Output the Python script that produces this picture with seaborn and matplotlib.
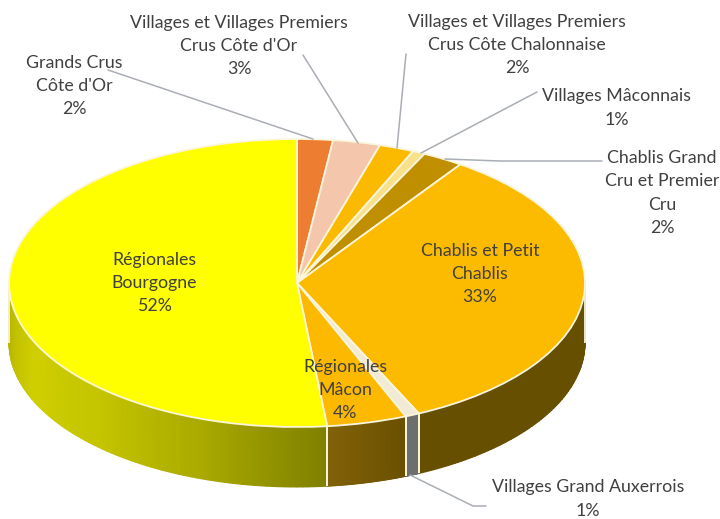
# 3D looking pie of Burgundy wine appellations
import numpy as np
import matplotlib
matplotlib.use('Agg')
import matplotlib.pyplot as plt
import seaborn as sns

# Clockwise from 12 o'clock, shares
values = [2.0, 2.65, 1.95, 0.7, 2.3, 33.45, 0.8, 4.48, 51.67]
top_colors = ['#ED7D31', '#F4C6AB', '#FBB900', '#F9E08A', '#BF8F00',
              '#FDBB00', '#F1EAD4', '#FDB900', '#FFFF00']
side_colors = [None, None, None, None, None,
               ['#665000', '#665000'],
               ['#6E6E6E', '#6E6E6E'],
               ['#6A5000', '#826208'],
               ['#808000', '#A8A800', '#C4C400', '#CFCF00', '#B4B400']]

label_texts = ["Grands Crus\nCôte d'Or\n2%",
               "Villages et Villages Premiers\nCrus Côte d'Or\n3%",
               "Villages et Villages Premiers\nCrus Côte Chalonnaise\n2%",
               "Villages Mâconnais\n1%",
               "Chablis Grand\nCru et Premier\nCru\n2%",
               "Chablis et Petit\nChablis\n33%",
               "Villages Grand Auxerrois\n1%",
               "Régionales\nMâcon\n4%",
               "Régionales\nBourgogne\n52%"]
label_pos = [(74, 86), (239, 46), (517, 45), (617, 108), (662, 193),
             (480, 274), (588, 499), (345, 390), (154, 283)]

# Leader lines, in picture pixels
leaders = [[(108, 70), (313, 139)],
           [(303, 55), (358, 143)],
           [(406, 54), (397, 148)],
           [(537, 92), (421, 153)],
           [(445, 159), (500, 161), (602, 161)],
           [(410, 475), (473, 506), (486, 506)]]

# Pie placement in pixels
W, H = 720, 519
cx, cy, rx, ry, depth = 297, 283, 288, 144, 60


def px(x, y):
    return (x - cx) / rx, (cy - y) / ry


sns.set_theme(style='white')
plt.rcParams['font.family'] = ['Lato', 'DejaVu Sans']

fig, ax = plt.subplots(figsize=(W / 100, H / 100), dpi=100)
fig.subplots_adjust(0, 0, 1, 1)

edge = '#FBF5DC'
wedges, _ = ax.pie(values, colors=top_colors, startangle=90, counterclock=False,
                   wedgeprops={'edgecolor': edge, 'linewidth': 1.3}, radius=1)
ax.set_aspect('auto')

# Sides of the disc, only the front half shows
d = depth / ry
edges = np.cumsum([0] + values) / sum(values) * 2 * np.pi
for start, stop, cols in zip(edges[:-1], edges[1:], side_colors):
    lo, hi = max(start, np.pi / 2), min(stop, 3 * np.pi / 2)
    if cols is None or hi <= lo:
        continue
    n = 80
    t = np.linspace(lo, hi, n)
    pal = np.array(sns.blend_palette(cols, n))[:, :3]
    X = np.vstack([np.sin(t), np.sin(t)])
    Y = np.vstack([np.cos(t), np.cos(t) - d])
    C = np.stack([pal, pal])
    ax.pcolormesh(X, Y, C, shading='gouraud', zorder=0.5)
    for a in (lo, hi):
        ax.plot([np.sin(a)] * 2, [np.cos(a), np.cos(a) - d], color=edge, lw=1.3,
                zorder=0.6, solid_capstyle='butt')
ax.set_xlim(px(0, 0)[0], px(W, 0)[0])
ax.set_ylim(px(0, H)[1], px(0, 0)[1])

for pts in leaders:
    xs, ys = zip(*[px(*p) for p in pts])
    ax.plot(xs, ys, color='#A9AEB5', lw=1.1, zorder=3)

for txt, pos in zip(label_texts, label_pos):
    x, y = px(*pos)
    ax.text(x, y, txt, ha='center', va='center', fontsize=12.8, color='#404040',
            linespacing=1.56, zorder=4)

fig.savefig('out.png', dpi=100, facecolor='white')
